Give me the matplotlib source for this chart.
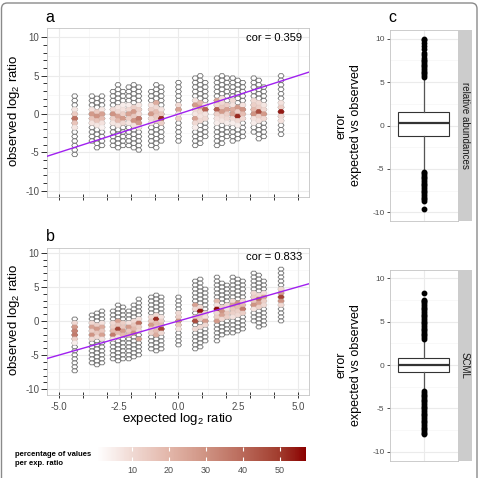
import matplotlib
matplotlib.use("Agg")
import matplotlib.pyplot as plt
import numpy as np
from matplotlib.collections import PolyCollection
from matplotlib.colors import LinearSegmentedColormap, Normalize
from matplotlib.cm import ScalarMappable
from matplotlib.patches import FancyBboxPatch

plt.rcParams["font.family"] = ["Liberation Sans", "DejaVu Sans"]
plt.rcParams["mathtext.fontset"] = "custom"
plt.rcParams["mathtext.rm"] = "Liberation Sans"
plt.rcParams["mathtext.default"] = "regular"
plt.rcParams["axes.unicode_minus"] = False

# ── hexbin data (shared column positions, expected log2 ratio) ──────────────
COL_X = [-4.34, -3.62, -3.41, -3.20, -2.74, -2.53, -2.32, -2.08, -1.87, -1.66,
         -1.14, -0.93, -0.72, 0.00, 0.70, 0.91, 1.12, 1.61, 1.82, 2.03,
         2.27, 2.48, 2.69, 3.15, 3.36, 3.57, 4.29]
DY = 0.585          # bin height in observed log2 units

# top / bottom bin row of every column (row * DY = observed log2 ratio)
A_TOP = [4, 4, 3.5, 4, 5, 6.5, 5, 6, 6.5, 6, 5, 6.5, 6, 7, 8, 8.5, 7, 8, 8.5, 8,
         8, 7.5, 7, 8, 7.5, 6, 8.5]
A_BOT = [-9, -6, -7.5, -7, -7, -7.5, -7, -7, -7.5, -8, -7, -7.5, -6, -6, -7, -6.5,
         -5, -7, -6.5, -5, -6, -5.5, -5, -4, -5.5, -5, -4.5]
B_TOP = [0.5, 1.5, 2, 2.5, 2.5, 4, 3.5, 2.5, 4, 5.5, 6, 6.5, 6, 6, 10, 10.5, 8,
         11, 9.5, 9, 11, 10.5, 10, 12, 11.5, 10, 13]
B_BOT = [-12.5, -10.5, -11, -10.5, -9.5, -10, -9.5, -9.5, -9, -8.5, -7, -7.5, -7,
         -6, -7, -6.5, -5, -5, -3.5, -3, -3, -2.5, -2, 0, -1.5, -1, 0]

# coloured bins: (column, row, percentage of values per exp. ratio)
A_HOT = [(0, 1, 7), (0, 0, 14), (0, -1, 38), (0, -2, 16), (0, -3, 7),
         (1, 1, 8), (1, 0, 28), (1, -1, 16), (1, -2, 8),
         (2, 0.5, 14), (2, -0.5, 30), (2, -1.5, 16), (2, -2.5, 7),
         (3, 1, 7), (3, 0, 26), (3, -1, 18), (3, -2, 8), (3, -3, 4),
         (4, 1, 10), (4, 0, 30), (4, -1, 13), (4, -2, 7),
         (5, 1.5, 7), (5, 0.5, 10), (5, -0.5, 26), (5, -1.5, 19), (5, -2.5, 7),
         (6, 2, 5), (6, 1, 8), (6, 0, 13), (6, -1, 28), (6, -2, 10),
         (7, 2, 5), (7, 1, 10), (7, 0, 26), (7, -1, 13), (7, -2, 7),
         (8, 1.5, 13), (8, 0.5, 28), (8, -0.5, 15), (8, -1.5, 30), (8, -2.5, 8),
         (9, 2, 7), (9, 1, 13), (9, 0, 10), (9, -1, 36), (9, -2, 28), (9, -3, 7),
         (10, 2, 8), (10, 1, 13), (10, 0, 28), (10, -1, 10), (10, -2, 7),
         (11, 2.5, 23), (11, 1.5, 10), (11, 0.5, 18), (11, -0.5, 15), (11, -1.5, 13),
         (12, 1, 8), (12, 0, 15), (12, -1, 52), (12, -2, 13),
         (13, 2, 10), (13, 1, 26), (13, 0, 8), (13, -1, 13),
         (14, 3, 8), (14, 2, 28), (14, 1, 10), (14, 0, 7), (14, -1, 26), (14, -2, 10), (14, -3, 5),
         (15, 2.5, 19), (15, 1.5, 26), (15, 0.5, 10), (15, -0.5, 8), (15, -1.5, 10),
         (16, 2, 7), (16, 1, 42), (16, 0, 8), (16, -1, 10),
         (17, 3, 26), (17, 2, 10), (17, 1, 42), (17, 0, 13), (17, -1, 8), (17, -2, 5),
         (18, 3.5, 8), (18, 2.5, 10), (18, 1.5, 15), (18, 0.5, 28), (18, -0.5, 10), (18, -1.5, 7),
         (19, 2, 13), (19, 1, 26), (19, 0, 13), (19, -1, 10), (19, -2, 5),
         (20, 3, 10), (20, 2, 8), (20, 1, 23), (20, 0, 26), (20, -1, 10), (20, -2, 5),
         (21, 1.5, 28), (21, 0.5, 13), (21, -0.5, 52), (21, -1.5, 10), (21, -2.5, 5),
         (22, 2, 8), (22, 1, 30), (22, 0, 18), (22, -1, 10),
         (23, 3, 10), (23, 2, 13), (23, 1, 19), (23, 0, 30), (23, -1, 8), (23, -2, 5),
         (24, 2.5, 10), (24, 1.5, 13), (24, 0.5, 46), (24, -0.5, 13), (24, -1.5, 8),
         (25, 2, 7), (25, 1, 10), (25, 0, 28), (25, -1, 10),
         (26, 2.5, 8), (26, 1.5, 13), (26, 0.5, 54), (26, -0.5, 10), (26, -1.5, 8)]

B_HOT = [(0, -0.5, 10), (0, -1.5, 28), (0, -2.5, 34), (0, -3.5, 36), (0, -4.5, 13), (0, -5.5, 5),
         (1, -0.5, 10), (1, -1.5, 26), (1, -2.5, 13), (1, -3.5, 30), (1, -4.5, 10),
         (2, -1, 13), (2, -2, 28), (2, -3, 15), (2, -4, 10),
         (3, -0.5, 8), (3, -1.5, 23), (3, -2.5, 15), (3, -3.5, 26), (3, -4.5, 8),
         (4, -0.5, 10), (4, -1.5, 13), (4, -2.5, 19), (4, -3.5, 36), (4, -4.5, 8),
         (5, 0, 26), (5, -1, 15), (5, -2, 48), (5, -3, 19), (5, -4, 8),
         (6, -0.5, 13), (6, -1.5, 15), (6, -2.5, 28), (6, -3.5, 19),
         (7, -0.5, 8), (7, -1.5, 28), (7, -2.5, 15), (7, -3.5, 19),
         (8, 0, 10), (8, -1, 15), (8, -2, 19), (8, -3, 30),
         (9, 0.5, 8), (9, -0.5, 38), (9, -1.5, 13), (9, -2.5, 10), (9, -4.5, 26),
         (10, 1, 10), (10, 0, 15), (10, -1, 28), (10, -2, 13), (10, -3, 13),
         (11, 1.5, 10), (11, 0.5, 52), (11, -0.5, 19), (11, -1.5, 15), (11, -2.5, 18), (11, -3.5, 23),
         (12, 1, 8), (12, 0, 13), (12, -1, 18), (12, -2, 48), (12, -3, 10),
         (13, 2, 10), (13, 1, 13), (13, 0, 30), (13, -1, 15), (13, -2, 8),
         (14, 4, 26), (14, 3, 10), (14, 1, 13), (14, 0, 46), (14, -2, 10),
         (15, 3.5, 10), (15, 2.5, 55), (15, 1.5, 15), (15, 0.5, 13), (15, -1.5, 10),
         (16, 2, 10), (16, 1, 8), (16, 0, 28), (16, -1, 10),
         (17, 5, 19), (17, 4, 8), (17, 3, 56), (17, 2, 10), (17, 1, 13), (17, 0, 28),
         (18, 3.5, 13), (18, 2.5, 30), (18, 1.5, 26), (18, 0.5, 10),
         (19, 4, 10), (19, 3, 8), (19, 2, 15), (19, 1, 13),
         (20, 5, 10), (20, 4, 26), (20, 3, 15), (20, 2, 13), (20, 1, 8),
         (21, 4.5, 30), (21, 3.5, 18), (21, 2.5, 13), (21, 1.5, 10),
         (22, 5, 10), (22, 4, 18), (22, 3, 36), (22, 2, 13),
         (23, 7, 10), (23, 6, 13), (23, 5, 15), (23, 4, 30), (23, 3, 8),
         (24, 6.5, 10), (24, 5.5, 38), (24, 4.5, 26), (24, 3.5, 13),
         (25, 7, 8), (25, 6, 26), (25, 5, 13), (25, 4, 10),
         (26, 8, 10), (26, 7, 26), (26, 6, 48), (26, 5, 30), (26, 4, 10)]

COR_A = "cor = 0.359"
COR_B = "cor = 0.833"

# ── boxplot data (error expected vs observed) ─────────────────────────────
REL_STATS = dict(med=0.25, q1=-1.2, q3=1.55, whislo=-5.2, whishi=5.5)
REL_FLIERS = [5.6, 5.8, 6.0, 6.2, 6.4, 6.6, 6.8, 7.0, 7.2, 7.4, 7.6, 7.8, 8.1,
              8.4, 8.8, 9.2, 9.5, 9.8, 10.0,
              -5.3, -5.5, -5.7, -5.9, -6.1, -6.3, -6.5, -6.7, -6.9, -7.1, -7.3,
              -7.5, -7.7, -7.9, -8.1, -8.3, -8.5, -8.7, -9.6]
SCML_STATS = dict(med=0.0, q1=-0.77, q3=0.76, whislo=-2.9, whishi=2.9)
SCML_FLIERS = [3.0, 3.2, 3.4, 3.6, 3.8, 4.0, 4.2, 4.4, 4.6, 4.8, 5.0, 5.2, 5.4,
               5.6, 5.8, 6.0, 6.2, 6.4, 6.6, 6.8, 7.0, 7.2, 7.4, 7.5, 8.25,
               -3.0, -3.2, -3.4, -3.6, -3.8, -4.0, -4.2, -4.4, -4.6, -4.8, -5.0,
               -5.2, -5.4, -5.6, -5.8, -6.0, -6.2, -6.4, -6.6, -6.8, -7.0, -7.2,
               -7.4, -7.6, -7.8, -8.0]

# ── style ──────────────────────────────────────────────────────────────────
W, H = 479, 478
GRID = "#EBEBEB"
GRID_MINOR = "#F5F5F5"
BORDER = "#C4C4C4"
TXT = "#4D4D4D"
PURPLE = "#A020F0"
CMAP = LinearSegmentedColormap.from_list(
    "pct", [(0, "#FFFFFF"), (0.17, "#F0D9D3"), (0.35, "#E2B5A8"), (0.52, "#CF9383"),
            (0.7, "#B9695A"), (0.88, "#A03A2C"), (1, "#8B0000")])
NORM = Normalize(vmin=0.5, vmax=57)

fig = plt.figure(figsize=(W / 100, H / 100), dpi=100)


def box(px_left, px_top, px_w, px_h):
    return [px_left / W, 1 - (px_top + px_h) / H, px_w / W, px_h / H]


def hex_verts(x, y, rx=0.125, ry=DY * 0.48):
    return [(x - rx, y), (x - rx / 2, y - ry), (x + rx / 2, y - ry),
            (x + rx, y), (x + rx / 2, y + ry), (x - rx / 2, y + ry)]


def hex_panel(ax, tops, bots, hot, ylim, cor, show_x):
    ax.set_xlim(-5.5, 5.46)
    ax.set_ylim(*ylim)
    for v in [-3.75, -1.25, 1.25, 3.75]:
        ax.axvline(v, color=GRID_MINOR, lw=0.5, zorder=0)
    for v in [-7.5, -2.5, 2.5, 7.5]:
        ax.axhline(v, color=GRID_MINOR, lw=0.5, zorder=0)
    for v in [-5, -2.5, 0, 2.5, 5]:
        ax.axvline(v, color=GRID, lw=0.8, zorder=0)
    for v in [-10, -5, 0, 5, 10]:
        ax.axhline(v, color=GRID, lw=0.8, zorder=0)

    base = []
    for x, t, b in zip(COL_X, tops, bots):
        for k in np.arange(t, b - 0.01, -1.0):
            base.append(hex_verts(x, k * DY))
    ax.add_collection(PolyCollection(base, facecolor="white", edgecolor="#6E6E6E",
                                     linewidth=0.6, zorder=2))
    hv, hvals = [], []
    for c, k, p in hot:
        hv.append(hex_verts(COL_X[c], k * DY))
        hvals.append(p)
    ax.add_collection(PolyCollection(hv, array=np.array(hvals), cmap=CMAP, norm=NORM,
                                     edgecolor="face", linewidth=0.5, zorder=3))

    ax.axline((0, 0), slope=1, color=PURPLE, lw=1.0, zorder=4)
    ax.text(0.973, 0.94, cor, transform=ax.transAxes, ha="right", va="center",
            fontsize=8, color="black")

    for s in ax.spines.values():
        s.set_color(BORDER)
        s.set_linewidth(0.6)
    ax.set_yticks([-10, -5, 0, 5, 10])
    ax.set_yticks(np.arange(-10, 11, 1), minor=True)
    ax.set_xticks([-5, -2.5, 0, 2.5, 5])
    ax.set_xticks(np.arange(-5, 6, 1), minor=True)
    ax.xaxis.remove_overlapping_locs = False
    ax.yaxis.remove_overlapping_locs = False
    ax.tick_params(axis="y", which="major", length=4, width=0.7, color="#333333",
                   labelsize=7, labelcolor=TXT, pad=1.5)
    ax.tick_params(axis="y", which="minor", length=3, width=0.7, color="#333333")
    ax.tick_params(axis="x", which="major", length=0, labelsize=7, labelcolor=TXT, pad=5)
    ax.tick_params(axis="x", which="minor", length=4, width=0.7, color="#333333",
                   direction="inout")
    if show_x:
        ax.set_xticklabels(["-5.0", "-2.5", "0.0", "2.5", "5.0"])
    else:
        ax.set_xticklabels([])
    ax.set_yticklabels(["-10", "-5", "0", "5", "10"])


ax_a = fig.add_axes(box(47, 28, 262, 169))
hex_panel(ax_a, A_TOP, A_BOT, A_HOT, (-10.8, 11.2), COR_A, False)
ax_b = fig.add_axes(box(47, 248, 262, 147))
hex_panel(ax_b, B_TOP, B_BOT, B_HOT, (-10.85, 10.7), COR_B, True)

fig.text(14 / W, 1 - 111 / H, "observed log$_2$ ratio", rotation=90, ha="center",
         va="center", fontsize=9.5)
fig.text(14 / W, 1 - 320 / H, "observed log$_2$ ratio", rotation=90, ha="center",
         va="center", fontsize=9.5)
fig.text(178 / W, 1 - 419 / H, "expected log$_2$ ratio", ha="center", va="center",
         fontsize=9.5)
fig.text(50 / W, 1 - 17 / H, "a", ha="center", va="center", fontsize=11.5)
fig.text(50 / W, 1 - 236 / H, "b", ha="center", va="center", fontsize=11.5)
fig.text(392 / W, 1 - 18 / H, "c", ha="center", va="center", fontsize=11.5)

# ── colour bar ─────────────────────────────────────────────────────────────
cax = fig.add_axes(box(96.7, 446.7, 209.3, 14))
cb = fig.colorbar(ScalarMappable(norm=NORM, cmap=CMAP), cax=cax, orientation="horizontal")
cb.outline.set_visible(False)
cb.set_ticks([10, 20, 30, 40, 50])
cax.tick_params(axis="x", direction="in", color="white", length=3, width=0.8,
                labelsize=6.5, labelcolor=TXT, pad=4, top=True)
fig.text(15 / W, 1 - 459 / H, "percentage of values\nper exp. ratio", ha="left",
         va="center", fontsize=5.5, fontweight="bold", linespacing=1.3)


# ── boxplots ───────────────────────────────────────────────────────────────
def box_panel(top_px, stats, fliers, strip_label):
    ax = fig.add_axes(box(390, top_px, 67.7, 191))
    ax.set_xlim(0.5, 1.5)
    ax.set_ylim(-11, 11)
    for v in [-7.5, -2.5, 2.5, 7.5]:
        ax.axhline(v, color=GRID_MINOR, lw=0.5, zorder=0)
    for v in [-10, -5, 0, 5, 10]:
        ax.axhline(v, color=GRID, lw=0.8, zorder=0)
    ax.axvline(1, color=GRID, lw=0.8, zorder=0)
    st = dict(stats)
    st["fliers"] = fliers
    ax.bxp([st], positions=[1], widths=0.75, showcaps=False, patch_artist=True,
           boxprops=dict(facecolor="white", edgecolor="#333333", linewidth=0.8),
           whiskerprops=dict(color="#555555", linewidth=0.9),
           medianprops=dict(color="#333333", linewidth=1.6),
           flierprops=dict(marker="o", markersize=3.2, markerfacecolor="black",
                           markeredgecolor="black"))
    for s in ax.spines.values():
        s.set_color(BORDER)
        s.set_linewidth(0.6)
    ax.set_xticks([])
    ax.set_yticks([-10, -5, 0, 5, 10])
    ax.set_yticklabels(["-10", "-5", "0", "5", "10"])
    ax.tick_params(axis="y", length=2.5, width=0.6, color="#333333", labelsize=6,
                   labelcolor=TXT, pad=1.5)

    sax = fig.add_axes(box(457.7, top_px, 14.6, 191))
    sax.set_facecolor("#CCCCCC")
    sax.set_xticks([])
    sax.set_yticks([])
    for s in sax.spines.values():
        s.set_visible(False)
    sax.text(0.5, 0.5, strip_label, rotation=-90, ha="center", va="center",
             fontsize=7, color="#1A1A1A", transform=sax.transAxes)

    fig.text(349 / W, 1 - (top_px + 95.5) / H, "error\nexpected vs observed",
             rotation=90, ha="center", va="center", fontsize=9, linespacing=1.25,
             multialignment="center")


box_panel(30, REL_STATS, REL_FLIERS, "relative abundances")
box_panel(269.5, SCML_STATS, SCML_FLIERS, "SCML")

# outer rounded frame
fig.patches.append(FancyBboxPatch((1.5 / W, -0.05), 475.5 / W, 1 - 3 / H + 0.05,
                                  boxstyle="round,pad=0,rounding_size=0.012",
                                  transform=fig.transFigure, facecolor="none",
                                  edgecolor="#8A8A8A", linewidth=1.0))

fig.savefig("out.png", dpi=100)
